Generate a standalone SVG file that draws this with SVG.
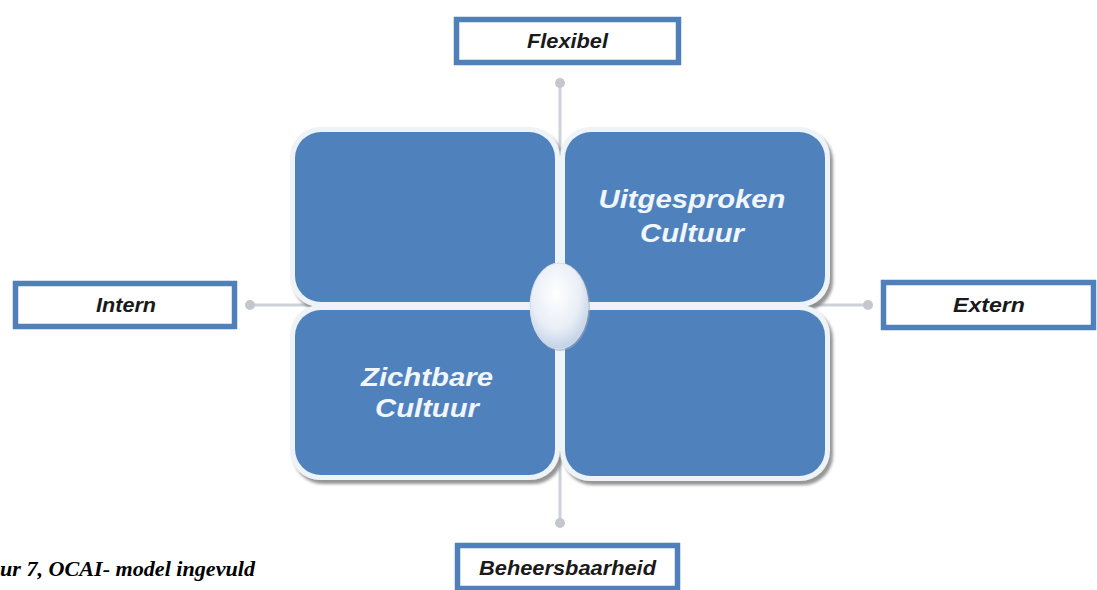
<svg xmlns="http://www.w3.org/2000/svg" width="1097" height="590" viewBox="0 0 1097 590">
<style>
.lbl{font-family:"Liberation Sans",Arial,sans-serif;font-weight:bold;font-style:italic;font-size:20px;fill:#1a1a1a;text-anchor:middle}
.qt{font-family:"Liberation Sans",Arial,sans-serif;font-weight:bold;font-style:italic;font-size:26px;fill:#f0f6fc;text-anchor:middle}
.box{fill:#ffffff;stroke:#5080b9;stroke-width:5.5}
.q{fill:#4f81bd}
.qb{fill:#eef3f8;filter:url(#sh)}
.axis{stroke:#cdd2d8;stroke-width:3;fill:none}
.dot{fill:#c4c8cc}
.cap{font-family:"Liberation Serif","DejaVu Serif",serif;font-weight:bold;font-style:italic;font-size:22px;fill:#000}
</style>
<defs>
<filter id="sh" x="-10%" y="-10%" width="125%" height="125%">
<feDropShadow dx="3" dy="4" stdDeviation="1.5" flood-color="#7a7a7a" flood-opacity="0.8"/>
</filter>
<radialGradient id="eg" cx="0.45" cy="0.35" r="0.7">
<stop offset="0" stop-color="#ffffff"/>
<stop offset="0.6" stop-color="#e9eef6"/>
<stop offset="1" stop-color="#b9cbe3"/>
</radialGradient>
</defs>
<rect width="1097" height="590" fill="#ffffff"/>
<g id="connectors">
<line class="axis" x1="560" y1="83" x2="560" y2="523"/>
<line class="axis" x1="250" y1="305" x2="868" y2="305"/>
<circle class="dot" cx="560" cy="83" r="5"/>
<circle class="dot" cx="560" cy="523" r="5"/>
<circle class="dot" cx="250" cy="305" r="5"/>
<circle class="dot" cx="868" cy="305" r="5"/>
</g>
<g id="q-tl">
<rect class="qb" x="290" y="127" width="270" height="180" rx="30"/>
<rect class="q" x="295" y="132" width="260" height="170" rx="26"/>
</g>
<g id="q-tr">
<rect class="qb" x="560" y="127" width="270" height="180" rx="30"/>
<rect class="q" x="565" y="132" width="260" height="170" rx="26"/>
<text class="qt" x="692" y="208" textLength="187" lengthAdjust="spacingAndGlyphs">Uitgesproken</text>
<text class="qt" x="692" y="242" textLength="104" lengthAdjust="spacingAndGlyphs">Cultuur</text>
</g>
<g id="q-bl">
<rect class="qb" x="290" y="305" width="270" height="175" rx="30"/>
<rect class="q" x="295" y="310" width="260" height="165" rx="26"/>
<text class="qt" x="427" y="386" textLength="132" lengthAdjust="spacingAndGlyphs">Zichtbare</text>
<text class="qt" x="427" y="417" textLength="104" lengthAdjust="spacingAndGlyphs">Cultuur</text>
</g>
<g id="q-br">
<rect class="qb" x="560" y="305" width="270" height="176" rx="30"/>
<rect class="q" x="565" y="310" width="260" height="166" rx="26"/>
</g>
<g id="center">
<ellipse cx="560" cy="307" rx="30" ry="44" fill="#9aa9bb" opacity="0.6"/>
<ellipse cx="559" cy="306" rx="29" ry="43" fill="url(#eg)" stroke="#d7e0ec" stroke-width="1"/>
</g>
<g id="flexibel">
<rect class="box" x="456.5" y="19.5" width="222" height="43"/>
<text class="lbl" x="567.5" y="48" textLength="81" lengthAdjust="spacingAndGlyphs">Flexibel</text>
</g>
<g id="intern">
<rect class="box" x="15.5" y="283.5" width="219" height="43"/>
<text class="lbl" x="126" y="312" textLength="60" lengthAdjust="spacingAndGlyphs">Intern</text>
</g>
<g id="extern">
<rect class="box" x="883.5" y="282.5" width="210" height="45"/>
<text class="lbl" x="989" y="312" textLength="72" lengthAdjust="spacingAndGlyphs">Extern</text>
</g>
<g id="beheersbaarheid">
<rect class="box" x="457.5" y="545.5" width="220" height="43"/>
<text class="lbl" x="567.5" y="575" textLength="177" lengthAdjust="spacingAndGlyphs">Beheersbaarheid</text>
</g>
<text class="cap" x="0" y="576" textLength="255" lengthAdjust="spacingAndGlyphs">ur 7, OCAI- model ingevuld</text>
</svg>
